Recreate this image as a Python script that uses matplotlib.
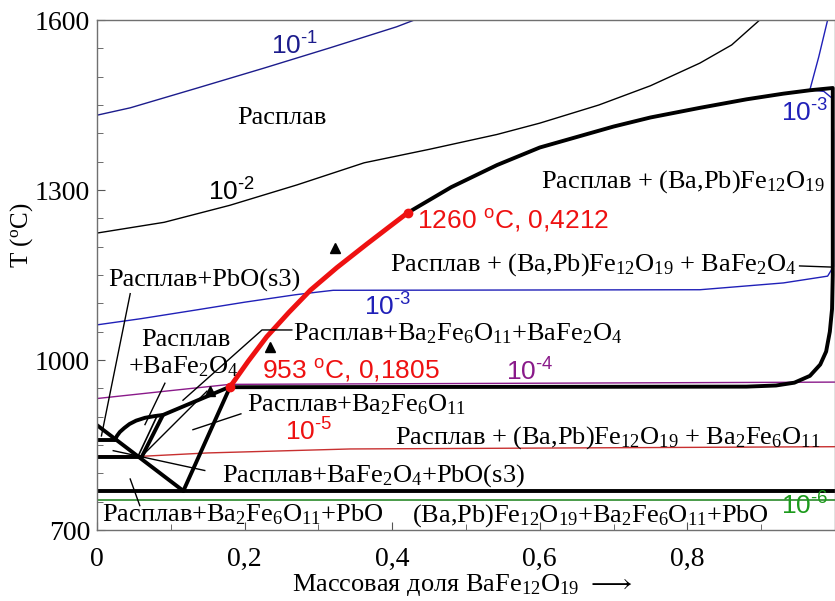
import numpy as np
import matplotlib
matplotlib.use("Agg")
import matplotlib.pyplot as plt
from matplotlib.ticker import MultipleLocator, FixedLocator, FixedFormatter

plt.rcParams['font.family'] = ['Liberation Serif', 'DejaVu Sans']
plt.rcParams['mathtext.fontset'] = 'custom'
plt.rcParams['mathtext.rm'] = 'Liberation Serif'
plt.rcParams['mathtext.default'] = 'regular'

# изобары p(O2) (x - массовая доля BaFe12O19, T - градусы C)
p1_x = [0.0, 0.045, 0.136, 0.226, 0.316, 0.406, 0.43]
p1_T = [1432, 1445, 1480, 1515, 1551, 1588, 1600]
p2_x = [0.0, 0.091, 0.180, 0.271, 0.362, 0.451, 0.542, 0.60, 0.68, 0.75, 0.817, 0.86, 0.898]
p2_T = [1224, 1243, 1273, 1309, 1348, 1372, 1398, 1418, 1450, 1484, 1524, 1556, 1600]
p3_x = [0.99, 0.978, 0.966, 0.985, 0.996, 0.998, 0.998, 0.99, 0.93, 0.817, 0.32,
        0.30, 0.268, 0.2, 0.133, 0.06, 0.0]
p3_T = [1600, 1535, 1477, 1474, 1462, 1400, 1165, 1148, 1136, 1124, 1123,
        1120, 1115, 1102, 1088, 1073, 1062]
p4_x = [0.0, 0.1, 0.18, 1.0]
p4_T = [932, 946, 957, 961]
p5_x = [0.0, 0.06, 0.15, 0.343, 1.0]
p5_T = [831, 830, 836, 843, 847]
p6_x = [0.0, 1.0]
p6_T = [753, 753]

# ликвидус
liq_red_x = [0.1805, 0.205, 0.230, 0.26, 0.289, 0.325, 0.366, 0.395, 0.4212]
liq_red_T = [953, 998, 1041, 1084, 1123, 1163, 1205, 1234, 1260]
liq_x = [0.4212, 0.48, 0.542, 0.60, 0.70, 0.75, 0.817, 0.88, 0.93, 0.966, 0.997,
         0.997, 0.996, 0.993, 0.988, 0.98, 0.966, 0.945, 0.92, 0.88, 0.1805]
liq_T = [1260, 1305, 1344, 1375, 1412, 1428, 1445, 1460, 1470, 1476, 1480,
         1150, 1090, 1050, 1015, 992, 972, 960, 955, 953, 952]

# прочие границы фаз
arc_x = [0.0244, 0.027, 0.031, 0.037, 0.044, 0.053, 0.065, 0.078, 0.0894, 0.1805]
arc_T = [859, 866, 873, 880, 887, 893, 898, 901, 903, 953]
diag_x = [0.0, 0.117]
diag_T = [885, 769]
b2_x = [0.1805, 0.117]
b2_T = [953, 769]
dbl_x = [0.0894, 0.0606]
dbl_T = [903, 829]
h859_x = [0.0, 0.0244]
h859_T = [859, 859]
h829_x = [0.0, 0.0606]
h829_T = [829, 829]
h769_x = [0.0, 1.0]
h769_T = [769, 769]

pts_x = [0.1805, 0.4212]
pts_T = [953, 1260]
tri_x = [0.153, 0.234, 0.322]
tri_T = [945, 1023, 1198]

fig = plt.figure(figsize=(8.35, 6.01), dpi=100)
ax = fig.add_axes([97/835, 1-530/601, 738/835, 510/601])

ax.plot(p1_x, p1_T, color='#1c1c8c', lw=1)
ax.plot(p2_x, p2_T, color='black', lw=1)
ax.plot(p3_x, p3_T, color='#2020b8', lw=1)
ax.plot(p4_x, p4_T, color='#8a1a8a', lw=1)
ax.plot(p5_x, p5_T, color='#c83030', lw=1)
ax.plot(p6_x, p6_T, color='#2a8a2a', lw=1.2)

k = dict(color='black', lw=2.8, solid_capstyle='round', solid_joinstyle='round')
ax.plot(liq_x, liq_T, **k)
ax.plot(arc_x, arc_T, **k)
ax.plot(diag_x, diag_T, **k)
ax.plot(b2_x, b2_T, **k)
ax.plot(dbl_x, dbl_T, **k)
ax.plot(h859_x, h859_T, **k)
ax.plot(h829_x, h829_T, **k)
ax.plot(h769_x, h769_T, **k)
ax.plot([0.082, 0.056], [903, 831], color='black', lw=1.2)
ax.plot([0.062, 0.149], [832, 945], color='black', lw=1)

ax.plot(liq_red_x, liq_red_T, color='#ee1111', lw=3.5, solid_capstyle='round')
ax.plot(pts_x, pts_T, 'o', color='#ee1111', ms=6)
ax.plot(tri_x, tri_T, '^', color='black', ms=7)

# выноски
t = dict(color='black', lw=1)
ax.plot([0.045, 0.006], [1117, 866], **t)
ax.plot([0.092, 0.065], [959, 886], **t)
ax.plot([0.195, 0.13], [905, 877], **t)
ax.plot([0.146, 0.022], [805, 840], **t)
ax.plot([0.045, 0.058], [790, 743], **t)
ax.plot([0.1165, 0.2236, 0.264], [929, 1053, 1053], **t)
ax.plot([0.952, 0.995], [1166, 1164], **t)

fs = 19
def lab(x, y, s, **kw):
    ax.text(x, y, s, fontsize=kw.pop('fontsize', fs), **kw)

sans = ['Liberation Sans', 'DejaVu Sans']
hy = '\u2010'
lab(0.268, 1554, '10$^{' + hy + '1}$', color='#1c1c8c', family=sans, ha='center', va='center')
lab(0.251, 1427, 'Расплав', ha='center', va='center')
lab(0.182, 1296, '10$^{' + hy + '2}$', color='black', family=sans, ha='center', va='center')
lab(0.959, 1436, '10$^{' + hy + '3}$', color='#2020b8', family=sans, ha='center', va='center')
lab(0.986, 1304, 'Расплав + (Ba,Pb)Fe$_{12}$O$_{19}$', ha='right', va='baseline')
lab(0.434, 1233, '1260 $^{o}$C, 0,4212', color='#ee1111', family=sans, ha='left', va='baseline')
lab(0.9485, 1157, 'Расплав + (Ba,Pb)Fe$_{12}$O$_{19}$ + BaFe$_2$O$_4$', ha='right', va='baseline')
lab(0.394, 1093, '10$^{' + hy + '3}$', color='#2020b8', family=sans, ha='center', va='center')
lab(0.015, 1129, 'Расплав+PbO(s3)', ha='left', va='baseline')
lab(0.121, 1025, 'Расплав', ha='center', va='baseline')
lab(0.117, 976, '+BaFe$_2$O$_4$', ha='center', va='baseline')
lab(0.266, 1034, 'Расплав+Ba$_2$Fe$_6$O$_{11}$+BaFe$_2$O$_4$', ha='left', va='baseline')
lab(0.2236, 982, '953 $^{o}$C, 0,1805', color='#ee1111', family=sans, ha='left', va='center')
lab(0.587, 979, '10$^{' + hy + '4}$', color='#8a1a8a', family=sans, ha='center', va='center')
lab(0.203, 909, 'Расплав+Ba$_2$Fe$_6$O$_{11}$', ha='left', va='baseline')
lab(0.287, 873, '10$^{' + hy + '5}$', color='#ee1111', family=sans, ha='center', va='center')
lab(0.404, 853, 'Расплав + (Ba,Pb)Fe$_{12}$O$_{19}$ + Ba$_2$Fe$_6$O$_{11}$', ha='left', va='baseline')
lab(0.169, 785, 'Расплав+BaFe$_2$O$_4$+PbO(s3)', ha='left', va='baseline')
lab(0.007, 715, 'Расплав+Ba$_2$Fe$_6$O$_{11}$+PbO', ha='left', va='baseline')
lab(0.427, 715, '(Ba,Pb)Fe$_{12}$O$_{19}$+Ba$_2$Fe$_6$O$_{11}$+PbO', ha='left', va='baseline')
lab(0.959, 742, '10$^{' + hy + '6}$', color='#1c9a1c', family=sans, ha='center', va='center')

ax.set_xlim(0, 1.0)
ax.set_ylim(700, 1600)
ax.xaxis.set_major_locator(FixedLocator([0, 0.2, 0.4, 0.6, 0.8]))
ax.xaxis.set_major_formatter(FixedFormatter(['0', '0,2', '0,4', '0,6', '0,8']))
ax.xaxis.set_minor_locator(MultipleLocator(0.1))
ax.yaxis.set_major_locator(FixedLocator([700, 1000, 1300, 1600]))
ax.yaxis.set_minor_locator(MultipleLocator(50))
ax.tick_params(which='both', direction='in', labelsize=20, color='#555555')
ax.tick_params(which='major', length=6)
ax.tick_params(which='minor', length=4)
ax.tick_params(axis='x', pad=12)
ax.tick_params(axis='y', pad=5)
for s in ax.spines.values():
    s.set_color('#707070')
    s.set_linewidth(1)

fig.text(22/835, 1-235/601, 'T ($^{o}$C)', rotation=90, fontsize=18, ha='center', va='center')
fig.text(462/835, 1-585/601, 'Массовая доля BaFe$_{12}$O$_{19}$ $\\longrightarrow$', fontsize=19, ha='center', va='center')

fig.savefig('out.png', dpi=100)
